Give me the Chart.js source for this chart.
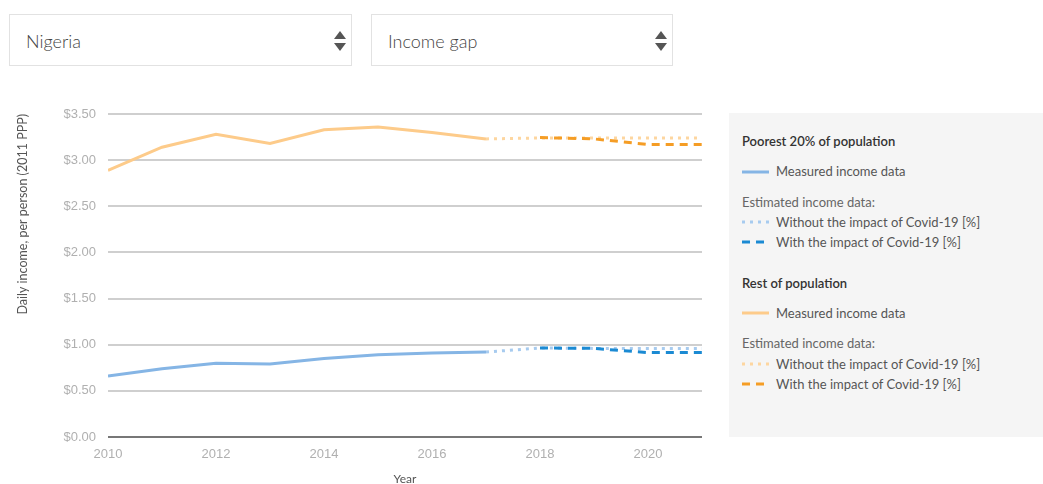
<!DOCTYPE html>
<html>
<head>
<meta charset="utf-8">
<script src="https://cdn.jsdelivr.net/npm/chart.js@4.4.1/dist/chart.umd.min.js"></script>
<style>
  body { margin: 0; width: 1043px; height: 484px; overflow: hidden; background: #fff; font-family: Lato, "Open Sans", sans-serif; }
  .select { position: absolute; top: 14px; height: 52px; border: 1px solid #e2e2e2; background: #fff; box-sizing: border-box; }
  .select span { position: absolute; left: 16px; top: 15px; font-size: 18px; color: #444; font-weight: 300; }
  .select svg { position: absolute; top: 15px; }
  #chartWrap { position: absolute; left: 0; top: 90px; width: 712px; height: 400px; }
  .panel { position: absolute; left: 729px; top: 113px; width: 314px; height: 324px; background: #f5f5f5; }
  .panel div { position: absolute; left: 13px; font-size: 13px; color: #555; white-space: nowrap; line-height: 16px; }
  .panel .head { font-size: 13px; color: #333; font-weight: 600; }
  .panel .sub { color: #666; }
  .panel svg { position: absolute; left: 13px; }
  .panel .item { left: 47px; }
</style>
</head>
<body>
<div class="select" style="left:9px;width:343px;"><span>Nigeria</span>
  <svg width="14" height="22" style="left:323px"><path d="M1 9 L7 1 L13 9 Z M1 13 L7 21 L13 13 Z" fill="#555"/></svg></div>
<div class="select" style="left:371px;width:302px;"><span>Income gap</span>
  <svg width="14" height="22" style="left:282px"><path d="M1 9 L7 1 L13 9 Z M1 13 L7 21 L13 13 Z" fill="#555"/></svg></div>

<div id="chartWrap"><canvas id="chart" width="712" height="400"></canvas></div>

<div class="panel">
  <div class="head" style="top:20px">Poorest 20% of population</div>
  <svg width="28" height="4" style="top:57px"><line x1="0" y1="2" x2="27" y2="2" stroke="#85b5e5" stroke-width="3"/></svg>
  <div class="item" style="top:50px">Measured income data</div>
  <div class="sub" style="top:81px">Estimated income data:</div>
  <svg width="28" height="4" style="top:107px"><line x1="0" y1="2" x2="27" y2="2" stroke="#a7cbef" stroke-width="3" stroke-dasharray="3 5"/></svg>
  <div class="item" style="top:101px">Without the impact of Covid-19 [%]</div>
  <svg width="28" height="4" style="top:127px"><line x1="0" y1="2" x2="27" y2="2" stroke="#1b8ad3" stroke-width="3" stroke-dasharray="8 6"/></svg>
  <div class="item" style="top:121px">With the impact of Covid-19 [%]</div>

  <div class="head" style="top:162px">Rest of population</div>
  <svg width="28" height="4" style="top:198px"><line x1="0" y1="2" x2="27" y2="2" stroke="#fdcb8a" stroke-width="3"/></svg>
  <div class="item" style="top:192px">Measured income data</div>
  <div class="sub" style="top:222px">Estimated income data:</div>
  <svg width="28" height="4" style="top:249px"><line x1="0" y1="2" x2="27" y2="2" stroke="#fdd6a0" stroke-width="3" stroke-dasharray="3 5"/></svg>
  <div class="item" style="top:243px">Without the impact of Covid-19 [%]</div>
  <svg width="28" height="4" style="top:269px"><line x1="0" y1="2" x2="27" y2="2" stroke="#f59d25" stroke-width="3" stroke-dasharray="8 6"/></svg>
  <div class="item" style="top:263px">With the impact of Covid-19 [%]</div>
</div>

<script>
// years and values
const measuredYears = [2010, 2011, 2012, 2013, 2014, 2015, 2016, 2017];
const estimateYears = [2017, 2018, 2019, 2020, 2021];
const covidYears = [2018, 2019, 2020, 2021];

const poorestMeasured = [0.66, 0.74, 0.80, 0.79, 0.85, 0.89, 0.91, 0.92];
const poorestWithout = [0.92, 0.965, 0.96, 0.96, 0.96];
const poorestWith = [0.965, 0.96, 0.915, 0.915];

const restMeasured = [2.89, 3.14, 3.28, 3.18, 3.33, 3.36, 3.30, 3.23];
const restWithout = [3.23, 3.24, 3.24, 3.24, 3.24];
const restWith = [3.245, 3.23, 3.17, 3.17];

const yTicks = [0, 0.5, 1, 1.5, 2, 2.5, 3, 3.5];

const pts = (xs, ys) => xs.map((x, i) => ({ x: x, y: ys[i] }));

const line = (label, data, color, dash, order) => ({
    label: label,
    data: data,
    borderColor: color,
    borderWidth: 3,
    borderDash: dash,
    pointRadius: 0,
    tension: 0,
    fill: false,
    order: order
});

new Chart(document.getElementById('chart'), {
    type: 'line',
    data: {
        datasets: [
            line('Poorest measured', pts(measuredYears, poorestMeasured), '#85b5e5', [], 3),
            line('Poorest without', pts(estimateYears, poorestWithout), '#a7cbef', [3, 5], 2),
            line('Poorest with', pts(covidYears, poorestWith), '#1b8ad3', [8, 6], 1),
            line('Rest measured', pts(measuredYears, restMeasured), '#fdcb8a', [], 3),
            line('Rest without', pts(estimateYears, restWithout), '#fdd6a0', [3, 5], 2),
            line('Rest with', pts(covidYears, restWith), '#f59d25', [8, 6], 1)
        ]
    },
    options: {
        responsive: false,
        devicePixelRatio: 1,
        animation: false,
        layout: { padding: { top: 24, right: 10, bottom: 0, left: 0 } },
        plugins: { legend: { display: false }, tooltip: { enabled: false } },
        scales: {
            x: {
                type: 'linear',
                min: 2010,
                max: 2021,
                afterFit: s => { s.height = 53; },
                ticks: {
                    stepSize: 2,
                    includeBounds: false,
                    padding: 10,
                    color: '#b0b0b0',
                    font: { family: 'Liberation Sans', size: 13 },
                    callback: v => String(v)
                },
                grid: { display: false, drawTicks: false },
                border: { display: false },
                title: { display: true, text: 'Year', color: '#555', font: { family: 'Lato', size: 12 }, padding: { top: 0, bottom: 4 } }
            },
            y: {
                min: 0,
                max: 3.5,
                afterFit: s => { s.width = 108; },
                afterBuildTicks: s => { s.ticks = yTicks.map(v => ({ value: v })); },
                ticks: {
                    padding: 12,
                    color: '#b0b0b0',
                    font: { family: 'Liberation Sans', size: 13 },
                    callback: v => '$' + v.toFixed(2)
                },
                grid: {
                    drawTicks: false,
                    lineWidth: 2,
                    color: c => (c.tick && c.tick.value === 0) ? '#777' : '#cfcfcf'
                },
                border: { display: false },
                title: { display: true, text: 'Daily income, per person (2011 PPP)', align: 'end', color: '#555', font: { family: 'Lato', size: 12.5 }, padding: { top: 15, bottom: 0 } }
            }
        }
    }
});
</script>
</body>
</html>
